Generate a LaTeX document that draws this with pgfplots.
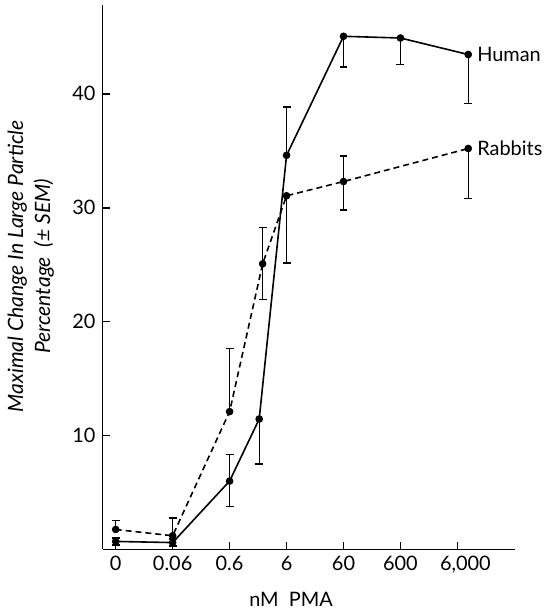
\documentclass[border=0pt]{standalone}
\usepackage{fontspec}
\setmainfont{Lato}
\usepackage{pgfplots}
\pgfplotsset{compat=1.18}
\begin{document}
\begin{tikzpicture}[font=\fontsize{10}{12}\selectfont]
\begin{axis}[
    scale only axis, width=207pt, height=273.3pt,
    xmin=-0.23, xmax=7.01, ymin=0, ymax=47.8,
    axis lines=left, axis line style={-, line width=0.9pt},
    xtick={0,1,2,3,4,5,6}, xticklabels={0,0.06,0.6,6,60,600,{\hspace*{8pt}6,000}},
    ytick={10,20,30,40}, yticklabels={10,20,30,40},
    tick align=inside, major tick length=3.5pt,
    tick style={black, line width=0.8pt},
    xlabel={nM\ \ PMA},
    xlabel style={at={(axis description cs:0.457,-0.0915)}, anchor=center},
    ylabel={Maximal Change In Large Particle\\Percentage\ \ (± SEM)},
    ylabel style={at={(axis description cs:-0.174,0.52)}, anchor=center,
        align=center, font=\fontsize{10.6}{13.5}\selectfont\itshape},
    clip=false,
]
% Human
\addplot[black, line width=0.8pt, mark=*, mark size=1.5pt] table {
x y
0 0.7
1 0.6
2 6.0
2.52 11.45
3 34.6
4 45.05
5 44.9
6.19 43.45
};
% Rabbits
\addplot[black, line width=0.8pt, dash pattern=on 3pt off 2pt, mark=*, mark size=1.5pt,
    mark options={solid}] table {
x y
0 1.75
1 1.2
2 12.1
2.58 25.07
3 31.05
4 32.3
6.19 35.2
};
% upper error bars
\addplot[draw=none, mark=none, forget plot,
    error bars/.cd, y dir=plus, y explicit,
    error bar style={draw=black, solid, line width=0.7pt},
    error mark options={draw=black, solid, rotate=90, mark size=2pt, line width=0.7pt}]
    table[x=x, y=y, y error=e] {
x y e
0 0.7 0.3
1 0.6 0.3
2 6.0 2.35
3 34.6 4.25
0 1.75 0.8
1 1.2 1.55
2 12.1 5.55
2.58 25.07 3.2
4 32.3 2.25
};
% lower error bars
\addplot[draw=none, mark=none, forget plot,
    error bars/.cd, y dir=minus, y explicit,
    error bar style={draw=black, solid, line width=0.7pt},
    error mark options={draw=black, solid, rotate=90, mark size=2pt, line width=0.7pt}]
    table[x=x, y=y, y error=e] {
x y e
0 0.7 0.3
1 0.6 0.3
2 6.0 2.25
2.52 11.45 3.95
4 45.05 2.7
5 44.9 2.35
6.19 43.45 4.3
2.58 25.07 3.15
3 31.05 5.9
4 32.3 2.5
6.19 35.2 4.4
};
\node[anchor=west, xshift=1pt] at (axis cs:6.19,43.45) {Human};
\node[anchor=west, xshift=1pt] at (axis cs:6.19,35.2) {Rabbits};
\coordinate (sw) at (rel axis cs:0,0);
\coordinate (ne) at (rel axis cs:1,1);
\end{axis}
\path ([shift={(-51.5pt,-30.7pt)}]sw) rectangle ([shift={(15.5pt,2.5pt)}]ne);
\end{tikzpicture}
\end{document}
